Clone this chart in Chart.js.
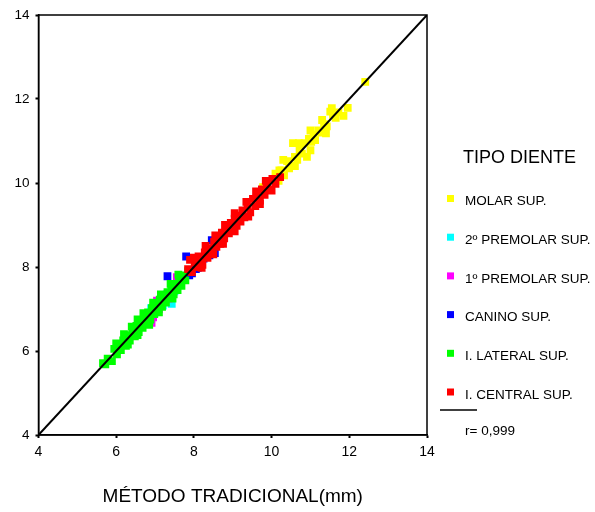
<!DOCTYPE html>
<html>
<head>
<meta charset="utf-8">
<script src="https://cdn.jsdelivr.net/npm/chart.js@4"></script>
<style>
  html, body { margin: 0; padding: 0; background: #fff; }
  #c { display: block; }
</style>
</head>
<body>
<canvas id="c" width="595" height="512"></canvas>
<script>
// ---- data ----
const seriesLabels = ["MOLAR SUP.", "2º PREMOLAR SUP.", "1º PREMOLAR SUP.", "CANINO SUP.", "I. LATERAL SUP.", "I. CENTRAL SUP."];
const seriesColors = ["#FFFF00", "#00FFFF", "#FF00FF", "#0000FF", "#00FF00", "#FF0000"];
const legendTitle = "TIPO DIENTE";
const fitLabel = "r= 0,999";
const xTitle = "MÉTODO TRADICIONAL(mm)";
const axisMin = 4, axisMax = 14, axisStep = 2;

const molar = [[9.78,9.90],[10.10,10.22],[10.18,10.05],[10.20,10.30],[10.25,10.30],[10.30,10.55],[10.32,10.18],[10.40,10.52],[10.45,10.35],[10.52,10.40],[10.55,10.95],[10.60,10.40],[10.60,10.62],[10.66,10.55],[10.70,10.95],[10.72,10.80],[10.78,10.70],[10.85,10.95],[10.91,10.62],[10.96,11.05],[11.00,11.25],[11.00,10.78],[11.02,10.98],[11.08,11.15],[11.12,11.02],[11.20,11.25],[11.28,11.20],[11.30,11.50],[11.35,11.40],[11.40,11.18],[11.42,11.35],[11.51,11.70],[11.55,11.78],[11.58,11.62],[11.65,11.55],[11.72,11.68],[11.85,11.60],[11.96,11.79],[12.41,12.41]];
const premolar2 = [[6.28,6.35],[6.45,6.40],[6.60,6.68],[6.75,6.78],[6.85,6.70],[6.90,7.02],[7.00,6.92],[7.05,7.15],[7.15,7.20],[7.20,7.08],[7.30,7.35],[7.35,7.22],[7.43,7.12],[7.50,7.42]];
const premolar1 = [[6.80,6.72],[6.91,6.67],[6.95,6.80],[7.05,7.20],[7.10,7.00],[7.20,7.30],[7.35,7.25],[7.56,7.76],[7.62,7.70]];
const canino = [[7.32,7.78],[7.80,8.25],[7.88,7.80],[7.95,7.85],[8.05,7.95],[8.10,7.98],[8.15,8.08],[8.25,8.20],[8.35,8.38],[8.40,8.28],[8.46,8.64],[8.54,8.33]];
const lateral = [[5.66,5.71],[5.72,5.68],[5.78,5.82],[5.89,5.76],[5.95,6.05],[6.00,6.18],[6.02,5.92],[6.08,6.15],[6.12,6.02],[6.18,6.25],[6.20,6.40],[6.25,6.12],[6.30,6.38],[6.30,6.15],[6.35,6.25],[6.40,6.58],[6.42,6.50],[6.48,6.35],[6.52,6.60],[6.55,6.75],[6.55,6.38],[6.58,6.45],[6.62,6.72],[6.68,6.55],[6.70,6.90],[6.72,6.80],[6.78,6.65],[6.82,6.92],[6.85,6.62],[6.88,6.75],[6.92,7.02],[6.95,7.15],[6.98,6.88],[7.02,7.12],[7.08,6.98],[7.10,6.92],[7.12,7.22],[7.15,7.35],[7.18,7.05],[7.22,7.32],[7.28,7.15],[7.32,7.40],[7.38,7.28],[7.40,7.60],[7.42,7.52],[7.45,7.25],[7.48,7.35],[7.52,7.60],[7.58,7.45],[7.60,7.82],[7.62,7.70],[7.68,7.55],[7.72,7.80],[7.78,7.68],[7.85,7.90]];
const central = [[7.85,7.95],[7.90,8.17],[7.95,7.88],[8.00,8.22],[8.02,8.10],[8.08,8.00],[8.12,8.25],[8.18,8.12],[8.20,7.98],[8.22,8.05],[8.28,8.35],[8.30,8.50],[8.35,8.22],[8.40,8.45],[8.45,8.32],[8.50,8.30],[8.52,8.60],[8.55,8.75],[8.58,8.48],[8.62,8.70],[8.68,8.55],[8.72,8.82],[8.75,8.55],[8.78,8.68],[8.80,9.00],[8.85,8.95],[8.90,8.80],[8.95,9.05],[9.00,8.88],[9.05,9.15],[9.05,9.28],[9.05,8.85],[9.10,8.98],[9.15,9.22],[9.20,9.08],[9.25,9.35],[9.30,9.18],[9.35,9.55],[9.38,9.45],[9.40,9.20],[9.45,9.30],[9.52,9.62],[9.58,9.45],[9.60,9.80],[9.62,9.72],[9.70,9.58],[9.70,9.50],[9.75,9.85],[9.82,9.72],[9.85,10.05],[9.88,9.98],[9.95,9.85],[10.00,9.82],[10.02,10.10],[10.10,9.98],[10.22,10.14]];
const fitLine = [[4,4],[14,14]];

const seriesData = [molar, premolar2, premolar1, canino, lateral, central];

// ---- chart ----
const FONT = '"Liberation Sans", Arial, Helvetica, sans-serif';
const toPts = arr => arr.map(p => ({x: p[0], y: p[1]}));

const datasets = seriesData.map((d, i) => ({
  type: 'scatter',
  label: seriesLabels[i],
  data: toPts(d),
  backgroundColor: seriesColors[i],
  borderColor: seriesColors[i],
  borderWidth: 0,
  pointStyle: 'rect',
  pointRadius: 5.5,
  pointHoverRadius: 5.5,
  order: 6 - i
}));
datasets.push({
  type: 'line',
  label: fitLabel,
  data: toPts(fitLine),
  borderColor: '#000',
  borderWidth: 2,
  pointRadius: 0,
  fill: false,
  order: 0,
  isFit: true
});

const frameAndLegend = {
  id: 'frameAndLegend',
  afterDatasetsDraw(chart) {
    const {ctx, chartArea: a} = chart;
    ctx.save();
    ctx.strokeStyle = '#000';
    ctx.lineWidth = 1.5;
    ctx.strokeRect(a.left, a.top, a.right - a.left, a.bottom - a.top);
    ctx.restore();
  },
  afterDraw(chart) {
    const ctx = chart.ctx;
    ctx.save();
    ctx.fillStyle = '#000';
    ctx.textBaseline = 'middle';
    ctx.textAlign = 'left';
    ctx.font = '18px ' + FONT;
    ctx.fillText(legendTitle, 463, 158);
    ctx.font = '13.5px ' + FONT;
    const pts = chart.data.datasets.filter(d => !d.isFit);
    pts.forEach((ds, i) => {
      const y = 201.5 + i * 38.7;
      ctx.fillStyle = ds.backgroundColor;
      ctx.fillRect(447, y - 6.5, 7, 7);
      ctx.fillStyle = '#000';
      ctx.fillText(ds.label, 465, y);
    });
    const fit = chart.data.datasets.find(d => d.isFit);
    ctx.strokeStyle = '#000';
    ctx.lineWidth = 1.5;
    ctx.beginPath();
    ctx.moveTo(440, 410);
    ctx.lineTo(477, 410);
    ctx.stroke();
    ctx.fillText(fit.label, 465, 431);
    ctx.restore();
  }
};

new Chart(document.getElementById('c'), {
  type: 'scatter',
  data: { datasets },
  options: {
    responsive: false,
    animation: false,
    layout: { padding: { top: 15, right: 168, left: 0, bottom: 0 } },
    plugins: { legend: { display: false }, tooltip: { enabled: false } },
    scales: {
      x: {
        type: 'linear',
        min: axisMin, max: axisMax,
        afterFit: s => { s.height = 77; },
        ticks: { stepSize: axisStep, color: '#000', font: { family: FONT, size: 14 }, padding: 6, maxRotation: 0 },
        grid: { drawOnChartArea: false, drawTicks: true, tickLength: 3, tickWidth: 2, color: '#000' },
        border: { display: true, color: '#000', width: 1.5 },
        title: { display: true, text: xTitle, color: '#000', font: { family: FONT, size: 19 }, padding: { top: 4, bottom: 4 } }
      },
      y: {
        type: 'linear',
        min: axisMin, max: axisMax,
        afterFit: s => { s.width = 38.5; },
        ticks: { stepSize: axisStep, color: '#000', font: { family: FONT, size: 13.5 }, padding: 6 },
        grid: { drawOnChartArea: false, drawTicks: true, tickLength: 3, tickWidth: 2, color: '#000' },
        border: { display: true, color: '#000', width: 1.5 }
      }
    }
  },
  plugins: [frameAndLegend]
});
</script>
</body>
</html>
